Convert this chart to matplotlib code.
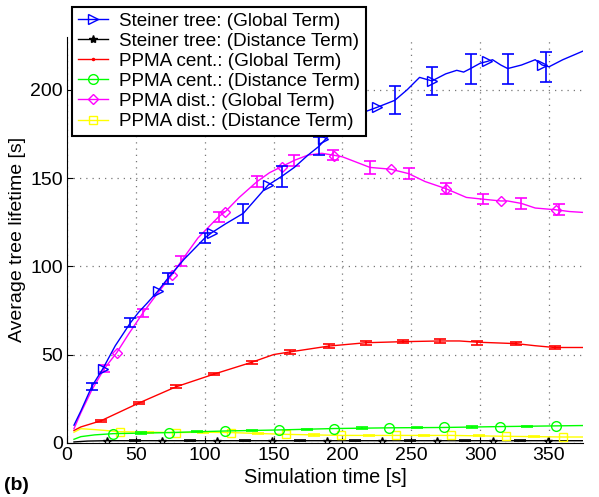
import matplotlib
matplotlib.use('Agg')
import matplotlib.pyplot as plt
from matplotlib.lines import Line2D

plt.rcParams['font.family'] = ['Liberation Sans', 'DejaVu Sans']

# ---- data ----
# Steiner tree: (Global Term)
st_g_x = [5, 10, 18, 26, 35, 46, 52, 58, 66, 73, 85, 100, 105, 115, 128, 137, 146, 156, 165, 175, 183,
          190, 200, 211, 218, 225, 238, 247, 256, 265, 275, 283, 288, 293, 300, 305, 309, 315, 320, 330,
          340, 345, 350, 360, 372, 375]
st_g_y = [10, 18, 32, 42, 55, 68, 74, 79, 86, 93, 104, 116, 119, 124, 130, 138, 146, 151, 156, 163, 168,
          174, 180, 185, 188, 190, 194, 200, 207, 205, 209, 211, 210, 212, 215, 216, 217, 214, 212, 214,
          217, 214, 213, 217, 221, 222]
st_g_mx = [26, 66, 105, 146, 186, 225, 265, 305, 345]
st_g_my = [42, 86, 119, 146, 172, 190, 205, 216, 214]
st_g_ex = [18, 46, 73, 100, 128, 156, 183, 211, 238, 265, 293, 320, 348]
st_g_ey = [32, 68, 93, 116, 130, 151, 168, 185, 194, 205, 212, 212, 213]
st_g_ee = [2, 2.5, 3, 3, 5.5, 6, 5, 6, 8, 8, 8.5, 8.5, 8.5]

# Steiner tree: (Distance Term)
st_d_x = [5, 15, 29, 100, 200, 300, 375]
st_d_y = [0.5, 1.0, 1.2, 1.2, 1.2, 1.2, 1.2]
st_d_mx = [29, 69, 109, 149, 189, 229, 269, 309, 349]
st_d_my = [1.2, 1.2, 1.2, 1.2, 1.2, 1.2, 1.2, 1.2, 1.2]
st_d_ex = [49, 89, 129, 169, 209, 249, 289, 329]
st_d_ey = [1.2, 1.2, 1.2, 1.2, 1.2, 1.2, 1.2, 1.2]
st_d_ee = [0.4, 0.4, 0.4, 0.4, 0.4, 0.4, 0.4, 0.4]

# PPMA cent.: (Global Term)
pc_g_x = [5, 10, 24.6, 52, 79, 107, 134, 150, 162, 190, 217, 244, 271, 285, 298, 326, 340, 354, 375]
pc_g_y = [7, 9, 12.5, 22.5, 31.7, 39, 45.6, 50, 51.5, 54.8, 56.7, 57.3, 57.7, 57.7, 57, 56.2, 55, 54, 54]
pc_g_ex = [24.6, 52, 79, 107, 134, 162, 190, 217, 244, 271, 298, 326, 354]
pc_g_ey = [12.5, 22.5, 31.7, 39, 45.6, 51.5, 54.8, 56.7, 57.3, 57.7, 56.7, 56.2, 54]
pc_g_ee = [0.6, 0.7, 0.8, 0.8, 0.9, 1.0, 1.2, 1.2, 1.0, 1.3, 1.2, 1.0, 1.0]

# PPMA cent.: (Distance Term)
pc_d_x = [5, 10, 20, 33.6, 74, 114.5, 154, 194, 234, 274, 314.6, 355, 375]
pc_d_y = [2, 3.5, 4.5, 5.2, 5.8, 6.7, 7.3, 8.1, 8.5, 8.7, 9.2, 9.6, 9.8]
pc_d_mx = [33.6, 74, 114.5, 154, 194, 234, 274, 314.6, 355]
pc_d_my = [5.2, 5.8, 6.7, 7.3, 8.1, 8.5, 8.7, 9.2, 9.6]
pc_d_ex = [54, 94, 134, 174, 214, 254, 294, 334]
pc_d_ey = [5.5, 6.3, 7.0, 7.7, 8.3, 8.6, 8.9, 9.4]
pc_d_ee = [0.4, 0.4, 0.4, 0.4, 0.4, 0.4, 0.4, 0.4]

# PPMA dist.: (Global Term)
pd_g_x = [5, 10, 18, 27, 36, 45, 55, 65, 76, 83, 95, 110, 115, 125, 138, 147, 156, 165, 175, 185, 193,
          200, 210, 220, 235, 248, 260, 275, 290, 302, 315, 320, 330, 340, 355, 365, 375]
pd_g_y = [8, 17, 30, 42, 51, 62, 73.5, 84, 95, 103, 116, 128, 131, 139, 148, 153, 156.5, 160, 163, 164, 163,
          162, 159, 156, 155, 152.5, 148, 144, 139, 138, 137, 137, 135.6, 133, 132, 131, 130.5]
pd_g_mx = [36, 76, 115, 156, 194, 235, 275, 315, 355]
pd_g_my = [51, 95, 131, 156.5, 162.5, 155, 144, 137, 132]
pd_g_ex = [27, 55, 83, 110, 138, 165, 193, 220, 248, 275, 302, 330, 357]
pd_g_ey = [42, 73.5, 103, 128, 148, 160, 163, 156, 152.5, 144, 138, 135.6, 132]
pd_g_ee = [2, 2.5, 3, 3, 3, 3, 3, 3.5, 3, 3, 3, 3, 3]

# PPMA dist.: (Distance Term)
pd_d_x = [5, 10, 20, 38.6, 79, 100, 119, 159, 199, 239, 279, 319, 360, 375]
pd_d_y = [6, 8, 7.5, 6.3, 5.8, 6, 5.8, 4.8, 4.2, 4.2, 4.2, 3.7, 3.3, 3.3]
pd_d_mx = [38.6, 79, 119, 159, 199, 239, 279, 319, 360]
pd_d_my = [6.3, 5.8, 5.8, 4.8, 4.2, 4.2, 4.2, 3.7, 3.3]
pd_d_ex = [59, 99, 139, 179, 219, 259, 299, 339]
pd_d_ey = [6.0, 6.0, 5.3, 4.5, 4.2, 4.2, 4.0, 3.5]
pd_d_ee = [0.4, 0.4, 0.4, 0.4, 0.4, 0.4, 0.4, 0.4]

labels = ['Steiner tree: (Global Term)', 'Steiner tree: (Distance Term)',
          'PPMA cent.: (Global Term)', 'PPMA cent.: (Distance Term)',
          'PPMA dist.: (Global Term)', 'PPMA dist.: (Distance Term)']

fig = plt.figure(figsize=(5.99, 4.97), dpi=100)
ax = fig.add_axes([0.112, 0.109, 0.862, 0.817])

lw = 1.0

def draw(x, y, ex, ey, ee, color, mx=None, my=None, marker=None, ms=6):
    ax.plot(x, y, color=color, lw=lw)
    ax.errorbar(ex, ey, yerr=ee, fmt='none', ecolor=color, elinewidth=1.2, capsize=4, capthick=1.2)
    if mx is not None:
        ax.plot(mx, my, linestyle='none', marker=marker, markersize=ms, markerfacecolor='none',
                markeredgecolor=color, markeredgewidth=1.0)

draw(st_d_x, st_d_y, st_d_ex, st_d_ey, st_d_ee, 'black', st_d_mx, st_d_my, '*', 6)
draw(pd_d_x, pd_d_y, pd_d_ex, pd_d_ey, pd_d_ee, '#ffff00', pd_d_mx, pd_d_my, 's', 6)
draw(pc_d_x, pc_d_y, pc_d_ex, pc_d_ey, pc_d_ee, '#00ff00', pc_d_mx, pc_d_my, 'o', 7)
draw(pc_g_x, pc_g_y, pc_g_ex, pc_g_ey, pc_g_ee, 'red')
draw(pd_g_x, pd_g_y, pd_g_ex, pd_g_ey, pd_g_ee, '#ff00ff', pd_g_mx, pd_g_my, 'D', 5.5)
draw(st_g_x, st_g_y, st_g_ex, st_g_ey, st_g_ee, 'blue', st_g_mx, st_g_my, '>', 7)

ax.set_xlim(0, 375)
ax.set_ylim(0, 230)
ax.set_xticks([0, 50, 100, 150, 200, 250, 300, 350])
ax.set_yticks([0, 50, 100, 150, 200])
ax.grid(True, linestyle=(0, (1, 4)), color='#777777', linewidth=0.9)
ax.tick_params(direction='in', labelsize=14, length=4, pad=3)
ax.spines['top'].set_visible(False)
ax.spines['right'].set_visible(False)
ax.set_xlabel('Simulation time [s]', fontsize=14.3, labelpad=3)
ax.set_ylabel('Average tree lifetime [s]', fontsize=14, labelpad=3)

handles = [
    Line2D([], [], color='blue', lw=lw, marker='>', markerfacecolor='none', markersize=7),
    Line2D([], [], color='black', lw=lw, marker='*', markersize=6),
    Line2D([], [], color='red', lw=lw, marker='.', markersize=3),
    Line2D([], [], color='#00ff00', lw=lw, marker='o', markerfacecolor='none', markersize=7),
    Line2D([], [], color='#ff00ff', lw=lw, marker='D', markerfacecolor='none', markersize=5.5),
    Line2D([], [], color='#ffff00', lw=lw, marker='s', markerfacecolor='none', markersize=6),
]
leg = fig.legend(handles, labels, loc='upper left', bbox_to_anchor=(72 / 599, 1 - 7 / 497),
                 fontsize=13.6, frameon=True, fancybox=False, framealpha=1, edgecolor='black',
                 borderaxespad=0, labelspacing=0.15, handlelength=1.6, handletextpad=0.6,
                 borderpad=0.3)
leg.get_frame().set_linewidth(1.5)
leg.set_zorder(10)

fig.text(0.006, 0.014, '(b)', fontsize=14, fontweight='bold')

fig.savefig('out.png', dpi=100)
